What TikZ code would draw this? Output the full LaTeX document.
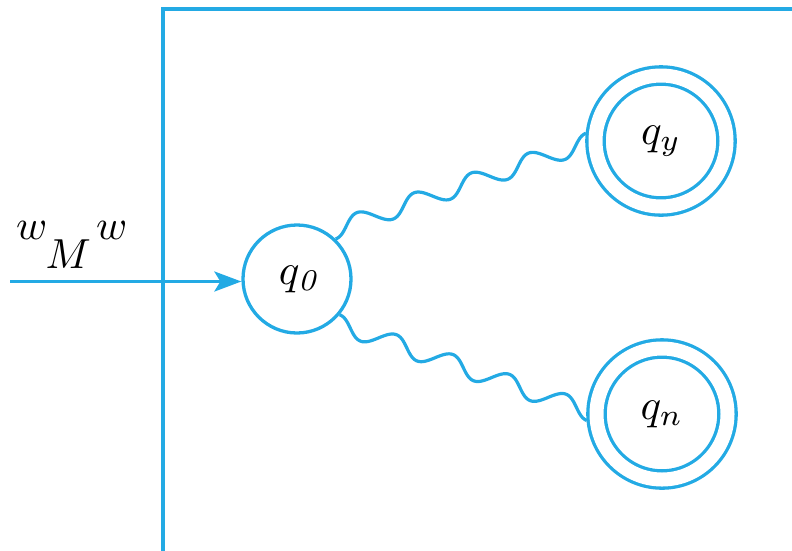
\documentclass[tikz,border=0pt]{standalone}
\usepackage{graphicx}
\usetikzlibrary{arrows.meta,calc}
\definecolor{lc}{RGB}{35,170,228}
\newcommand{\bigq}[1]{\scalebox{4.3}{$#1$}}
\begin{document}
\begin{tikzpicture}[x=1pt,y=-1pt,
  every node/.style={inner sep=0pt},
  ln/.style={draw=lc,line width=3.2pt},
  state/.style={circle,draw=lc,line width=3.3pt,minimum size=108pt},
  accstate/.style={circle,draw=lc,line width=3.3pt,double=white,double distance=14pt,minimum size=131pt,outer sep=9.8pt},
  lbl/.style={anchor=base west}]
\useasboundingbox (0,0) rectangle (792,550);
% frame
\coordinate (fb) at (163,551);
\coordinate (ft) at (163,9);
\coordinate (fr) at (793,9);
\draw[ln] (fb) -- (ft) -- (fr);
% states
\node[state] (q0) at (297,279) {\kern7pt\bigq{q_{\mathit{0}}}};
\node[accstate] (qy) at (661,141) {\bigq{q_y}};
\node[accstate] (qn) at (662,414) {\bigq{q_n}};
% input
\coordinate (in) at (10,281.5);
\draw[ln,-{Stealth[length=27pt,width=20pt,inset=6pt]}] (in) -- (in -| q0.west);
\node[lbl] (w) at (16,268) {\scalebox{4.2}{$\raisebox{6.7pt}{$w$}\kern-0.4pt M\kern1.2pt\raisebox{6.7pt}{$w$}$}};
% waves (4.5 periods, perpendicular sine)
\def\A{9}
\draw[ln,line join=round] let \p1=(q0.46), \p2=(qy.174), \n1={veclen(\x2-\x1,\y2-\y1)} in
  plot[variable=\t,domain=0:1,samples=240,smooth]
  ({\x1+(\x2-\x1)*\t-((\y2-\y1)/\n1)*(\A*(1-2*\t)-\A*cos(1620*\t))},
   {\y1+(\y2-\y1)*\t+((\x2-\x1)/\n1)*(\A*(1-2*\t)-\A*cos(1620*\t))});
\draw[ln,line join=round] let \p1=(q0.-40), \p2=(qn.185), \n1={veclen(\x2-\x1,\y2-\y1)} in
  plot[variable=\t,domain=0:1,samples=240,smooth]
  ({\x1+(\x2-\x1)*\t+((\y2-\y1)/\n1)*(\A*(1-2*\t)-\A*cos(1620*\t))},
   {\y1+(\y2-\y1)*\t-((\x2-\x1)/\n1)*(\A*(1-2*\t)-\A*cos(1620*\t))});
\end{tikzpicture}
\end{document}
